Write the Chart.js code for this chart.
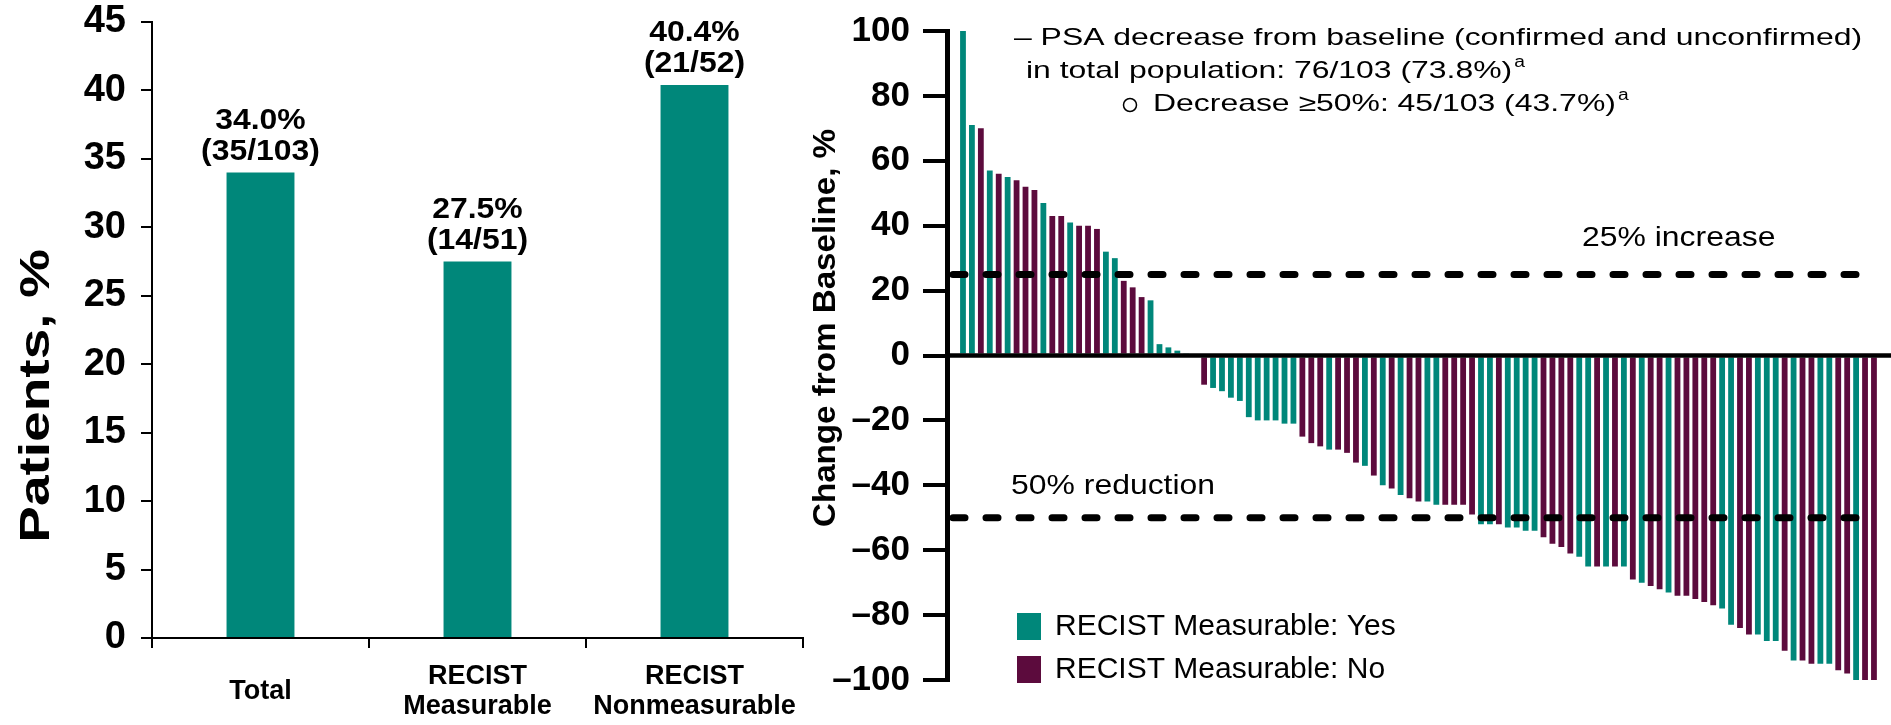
<!DOCTYPE html>
<html>
<head>
<meta charset="utf-8">
<script src="https://cdn.jsdelivr.net/npm/chart.js@4.4.1/dist/chart.umd.min.js"></script>
<style>
  html, body { margin: 0; padding: 0; background: #fff; }
  #wrap { position: relative; width: 1891px; height: 725px; overflow: hidden; }
  canvas { position: absolute; top: 0; }
  #responseChart { left: 0; }
  #psaChart { left: 780px; }
</style>
</head>
<body>
<div id="wrap">
  <canvas id="responseChart" width="830" height="725"></canvas>
  <canvas id="psaChart" width="1111" height="725"></canvas>
</div>
<script>
var TEAL = "#00877a";
var MAROON = "#5c0b3d";
var FONT = "'Liberation Sans', Arial, Helvetica, sans-serif";

// left panel: PSA response rate by subgroup
var groupLabels = [["Total"], ["RECIST", "Measurable"], ["RECIST", "Nonmeasurable"]];
var responseRate = [34.0, 27.5, 40.4];
var responseCounts = ["35/103", "14/51", "21/52"];

// right panel: best PSA change from baseline per patient (sorted)
var psaChange = [
  100, 71, 70, 57, 56, 55, 54, 52, 51, 47,
  43, 43, 41, 40, 40, 39, 32, 30, 23, 21,
  18, 17, 3.5, 2.5, 1.5, 0.7, 0,
  -9, -10, -11, -13, -14, -19, -20, -20, -20, -21,
  -21, -25, -27, -28, -29, -29, -30, -33, -34, -37,
  -40, -41, -43, -44, -45, -45, -46, -46, -46, -46,
  -49, -52, -52, -52, -53, -53, -54, -54, -56, -58,
  -59, -61, -62, -65, -65, -65, -65, -65, -69, -70,
  -71, -72, -73, -74, -74, -75, -76, -77, -78, -83,
  -84, -86, -86, -88, -88, -91, -94, -94, -95, -95,
  -95, -97, -98, -100, -100, -100
];
// RECIST measurable disease at baseline: Y / N
var recistMeasurable = [
  "Y", "Y", "N", "Y", "N", "Y", "N", "N", "N", "Y",
  "N", "N", "Y", "N", "N", "N", "Y", "Y", "N", "N",
  "N", "Y", "Y", "Y", "Y", "Y", "Y",
  "N", "Y", "Y", "Y", "Y", "Y", "Y", "Y", "Y", "Y",
  "Y", "N", "N", "N", "Y", "N", "N", "N", "Y", "N",
  "Y", "N", "Y", "N", "N", "Y", "Y", "N", "N", "N",
  "N", "Y", "Y", "N", "Y", "Y", "Y", "Y", "N", "N",
  "N", "N", "Y", "Y", "N", "Y", "N", "Y", "N", "Y",
  "N", "N", "Y", "N", "N", "N", "N", "N", "Y", "Y",
  "N", "N", "Y", "Y", "Y", "N", "Y", "N", "N", "Y",
  "Y", "N", "N", "Y", "N", "N"
];
var patientIds = psaChange.map(function(v, i) { return i + 1; });
var referenceLines = [25, -50];
var legendItems = ["RECIST Measurable: Yes", "RECIST Measurable: No"];

// text helper with optional horizontal stretch and rotation
function drawText(ctx, text, x, y, font, align, sx, rotate) {
  ctx.save();
  ctx.font = font;
  ctx.fillStyle = "#000";
  ctx.textAlign = align || "left";
  ctx.textBaseline = "middle";
  ctx.translate(x, y);
  if (rotate) ctx.rotate(rotate);
  ctx.scale(sx || 1, 1);
  ctx.fillText(text, 0, 0);
  var w = ctx.measureText(text).width * (sx || 1);
  ctx.restore();
  return w;
}

// fixed axis width, and no extra room for the end labels
function fixWidth(w) {
  return function(scale) {
    scale.width = w;
    scale.paddingTop = 0;
    scale.paddingBottom = 0;
  };
}

var responseLabels = {
  id: "responseLabels",
  afterDatasetsDraw: function(chart) {
    var ctx = chart.ctx;
    var meta = chart.getDatasetMeta(0);
    meta.data.forEach(function(bar, i) {
      drawText(ctx, responseRate[i].toFixed(1) + "%", bar.x, bar.y - 52, "bold 29px " + FONT, "center", 1.1);
      drawText(ctx, "(" + responseCounts[i] + ")", bar.x, bar.y - 21, "bold 29px " + FONT, "center", 1.1);
    });

    // category names, centred under each slot
    var xs = chart.scales.x;
    groupLabels.forEach(function(lines, i) {
      var cx = xs.getPixelForValue(i);
      lines.forEach(function(line, j) {
        var y = 692 + (j - (lines.length - 1) / 2) * 30;
        drawText(ctx, line, cx, y, "bold 27px " + FONT, "center", 1);
      });
    });

    drawText(ctx, "Patients, %", 37, 396, "bold 43px " + FONT, "center", 1.28, -Math.PI / 2);
  }
};

new Chart(document.getElementById("responseChart"), {
  type: "bar",
  data: {
    labels: groupLabels,
    datasets: [{
      data: responseRate,
      backgroundColor: TEAL,
      categoryPercentage: 1,
      barPercentage: 0.313
    }]
  },
  options: {
    responsive: false,
    animation: false,
    layout: { padding: { top: 22, right: 27, left: 0, bottom: 0 } },
    plugins: { legend: { display: false }, tooltip: { enabled: false } },
    scales: {
      x: {
        afterFit: function(scale) { scale.height = 87; },
        border: { color: "#000", width: 2 },
        grid: { offset: true, drawOnChartArea: false, color: "#000", lineWidth: 2, tickLength: 10 },
        ticks: { display: false }
      },
      y: {
        min: 0,
        max: 45,
        afterFit: fixWidth(152),
        border: { color: "#000", width: 2 },
        grid: { drawOnChartArea: false, color: "#000", lineWidth: 2, tickLength: 11 },
        ticks: {
          stepSize: 5,
          padding: 15,
          color: "#000",
          font: { family: FONT, size: 38, weight: "bold" }
        }
      }
    }
  },
  plugins: [responseLabels]
});

var waterfallDecor = {
  id: "waterfallDecor",
  afterDatasetsDraw: function(chart) {
    var ctx = chart.ctx;
    var area = chart.chartArea;
    var xs = chart.scales.x;
    var ys = chart.scales.y;

    // baseline at 0
    ctx.save();
    ctx.strokeStyle = "#000";
    ctx.lineWidth = 4.5;
    ctx.beginPath();
    ctx.moveTo(area.left, ys.getPixelForValue(0));
    ctx.lineTo(chart.width, ys.getPixelForValue(0));
    ctx.stroke();

    // 25% increase / 50% reduction thresholds
    ctx.lineWidth = 7;
    ctx.lineCap = "round";
    ctx.setLineDash([12, 21]);
    referenceLines.forEach(function(v) {
      var y = ys.getPixelForValue(v);
      ctx.beginPath();
      ctx.moveTo(area.left + 6, y);
      ctx.lineTo(xs.getPixelForValue(103.3), y);
      ctx.stroke();
    });
    ctx.restore();

    drawText(ctx, "25% increase", 802, 238, "28px " + FONT, "left", 1.14);
    drawText(ctx, "50% reduction", 231, 486, "28px " + FONT, "left", 1.14);

    // response summary
    var f = "24px " + FONT;
    var sx = 1.33;
    drawText(ctx, "\u2013 PSA decrease from baseline (confirmed and unconfirmed)", 234, 38, f, "left", sx);
    var w = drawText(ctx, "in total population: 76/103 (73.8%)", 246, 71, f, "left", sx);
    drawText(ctx, "a", 246 + w + 2, 63, "16px " + FONT, "left", 1.2);
    ctx.save();
    ctx.strokeStyle = "#000";
    ctx.lineWidth = 1.5;
    ctx.beginPath();
    ctx.arc(350, 105, 6.5, 0, Math.PI * 2);
    ctx.stroke();
    ctx.restore();
    w = drawText(ctx, "Decrease \u226550%: 45/103 (43.7%)", 373, 104, f, "left", sx);
    drawText(ctx, "a", 373 + w + 2, 96, "16px " + FONT, "left", 1.2);

    // legend
    [TEAL, MAROON].forEach(function(col, i) {
      var cy = 627 + i * 43;
      ctx.fillStyle = col;
      ctx.fillRect(237, cy - 14, 24, 27);
      drawText(ctx, legendItems[i], 275, cy, "30px " + FONT, "left", 1);
    });

    drawText(ctx, "Change from Baseline, %", 46, 328, "bold 31px " + FONT, "center", 1.07, -Math.PI / 2);
  }
};

new Chart(document.getElementById("psaChart"), {
  type: "bar",
  data: {
    labels: patientIds,
    datasets: [{
      data: psaChange,
      backgroundColor: recistMeasurable.map(function(m) { return m === "Y" ? TEAL : MAROON; }),
      categoryPercentage: 1,
      barPercentage: 0.65
    }]
  },
  options: {
    responsive: false,
    animation: false,
    layout: { padding: { top: 31, bottom: 45, right: 9, left: 0 } },
    plugins: { legend: { display: false }, tooltip: { enabled: false } },
    scales: {
      x: { type: "linear", min: -0.79, max: 103.9, offset: false, bounds: "data", display: false },
      y: {
        min: -100,
        max: 100,
        afterFit: fixWidth(167),
        border: { color: "#000", width: 5 },
        grid: { drawOnChartArea: false, color: "#000", lineWidth: 4, tickWidth: 4, tickLength: 24 },
        ticks: {
          stepSize: 20,
          padding: 13,
          color: "#000",
          font: { family: FONT, size: 35, weight: "bold" },
          callback: function(v) { return v < 0 ? "\u2013" + (-v) : String(v); }
        }
      }
    }
  },
  plugins: [waterfallDecor]
});
</script>
</body>
</html>
